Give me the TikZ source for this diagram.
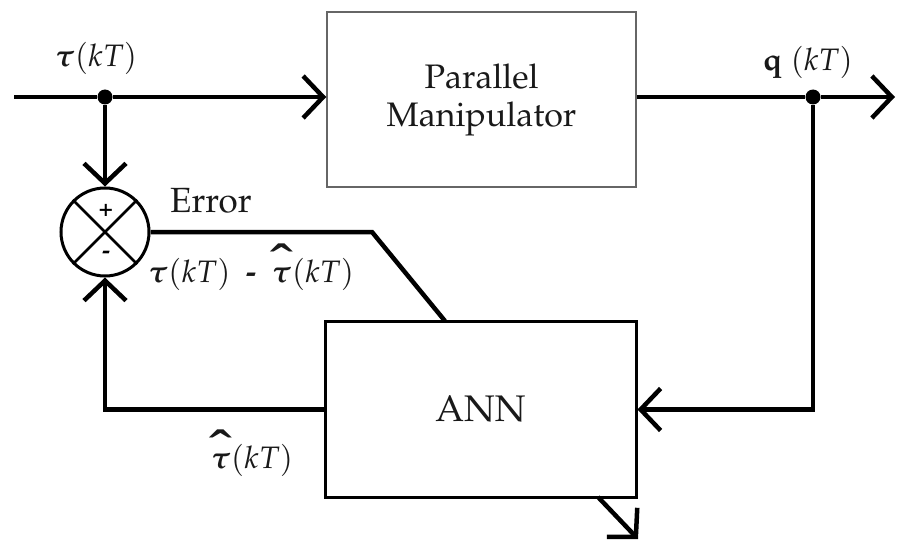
\documentclass[tikz,border=0pt]{standalone}
\usepackage[T1]{fontenc}
\usepackage{mathpazo}
\usepackage{bm}
\usetikzlibrary{arrows.meta}
% bold tau with a wide bold circumflex over it
\newcommand{\tauhat}{\mathord{\ooalign{$\bm{\tau}$\cr
  \hidewidth\raisebox{0.22em}{\scalebox{2.2}[1.5]{\textbf{\^{}}}}\hidewidth\cr}}}
\begin{document}
\begin{tikzpicture}[x=1pt,y=-1pt,
  wire/.style={line width=4.5pt},
  barb/.style={-{Straight Barb[length=20pt,width=42pt,line width=4.5pt]}},
  boxtext/.style={font=\fontsize{34}{40}\selectfont, inner sep=0pt, text=black!90},
  lbl/.style={font=\fontsize{35}{38}\selectfont, inner sep=0pt, text=black!90},
  mlbl/.style={font=\fontsize{31}{34}\selectfont, inner sep=0pt, text=black!90},
  sign/.style={font=\fontsize{24}{26}\selectfont\bfseries, inner sep=0pt},
  joint/.style={circle, fill=black, inner sep=0pt, minimum size=15pt},
]
\useasboundingbox (0,0) rectangle (898,543);

% blocks
\node[draw=black!60, line width=1.5pt, minimum width=309pt, minimum height=175pt,
      boxtext, align=center] (pm) at (481.5,99.5) {Parallel\\[-2pt]Manipulator};
\node[draw=black, line width=3pt, minimum width=311pt, minimum height=176pt,
      boxtext, font=\fontsize{37}{40}\selectfont] (ann) at (480.5,409.5) {ANN};

% summing junction
\node[draw, circle, line width=3pt, minimum size=88pt, inner sep=0pt] (sum) at (105,232) {};
\draw[line width=2.5pt] (sum.45) -- (sum.225) (sum.135) -- (sum.315);
\node[sign] (plus) at (106,210) {+};
\node[sign] (minus) at (106,255) {-};

% branch points and route corners
\node[joint] (tdot) at (105,97) {};
\node[joint] (qdot) at (813,97) {};
\coordinate (in) at (14,97);
\coordinate (out) at (895,97);
\coordinate (ebend) at (372,232);
\coordinate (ein) at (445,321);
\coordinate (fb) at (105,409.5);
\coordinate (qc) at (813,409.5);
\coordinate (aout) at (598,497);
\coordinate (atip) at (638,539);

% signal lines
\draw[wire] (in) -- (tdot);
\draw[wire,barb] (tdot) -- (tdot -| pm.west);
\draw[wire] (pm.east |- qdot) -- (qdot);
\draw[wire,barb] (qdot) -- (out);
\draw[wire,barb] (tdot) -- (sum.north);
\draw[wire] (sum.east) -- (ebend) -- (ein);
\draw[wire,barb] (ann.west) -- (fb) -- (sum.south);
\draw[wire,barb] (qdot) -- (qc) -- (ann.east);
\draw[wire,barb] (aout) -- (atip);

% labels
\node[mlbl] (tlab) at (96,58) {$\bm{\tau}(kT)$};
\node[mlbl] (qlab) at (808,62) {$\mathbf{q}\;(kT)$};
\node[lbl, anchor=west] (err) at (170,201) {Error};
\node[mlbl, anchor=base west] (elab) at (148,282) {$\bm{\tau}(kT)\ \ \textbf{-}\ \ \tauhat(kT)$};
\node[mlbl, anchor=base] (hlab) at (252,468) {$\tauhat(kT)$};
\end{tikzpicture}
\end{document}
